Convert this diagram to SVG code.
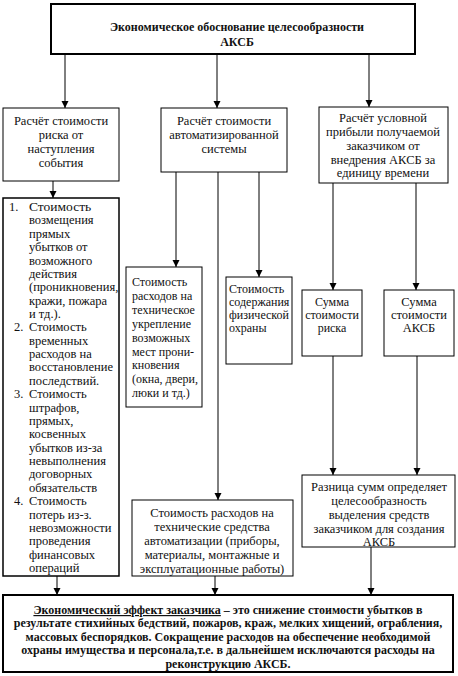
<svg xmlns="http://www.w3.org/2000/svg" width="458" height="676" viewBox="0 0 458 676">
<defs>
<marker id="arr" markerWidth="8" markerHeight="8" refX="7" refY="3.5" orient="auto" markerUnits="userSpaceOnUse">
<path d="M0,0 L7,3.5 L0,7 Z" fill="#000"/>
</marker>
<style>
.box{fill:#fff;stroke:#000;stroke-width:1}
.thick{fill:#fff;stroke:#000;stroke-width:2}
.t{font-family:"Liberation Serif","Times New Roman",serif;font-size:12.5px;fill:#111}
.s{font-size:12px}
.c{text-anchor:middle}
.b{font-weight:bold;font-size:12px}
.big{font-size:13.5px}
.ln{stroke:#000;stroke-width:1;fill:none}
.la{stroke:#000;stroke-width:1;fill:none;marker-end:url(#arr)}
</style>
</defs>
<rect width="458" height="676" fill="#fff"/>

<g id="connectors">
<line class="la" x1="65" y1="55" x2="65" y2="108"/>
<line class="la" x1="217" y1="55" x2="217" y2="108"/>
<line class="la" x1="369" y1="55" x2="369" y2="107"/>
<line class="la" x1="53" y1="181" x2="53" y2="198"/>
<line class="la" x1="176" y1="172" x2="176" y2="267"/>
<line class="la" x1="218" y1="172" x2="218" y2="500"/>
<line class="la" x1="259" y1="172" x2="259" y2="277"/>
<line class="la" x1="333" y1="183" x2="333" y2="290"/>
<line class="la" x1="416" y1="183" x2="416" y2="290"/>
<line class="la" x1="333" y1="356" x2="333" y2="475"/>
<line class="la" x1="417" y1="356" x2="417" y2="475"/>
<line class="la" x1="57" y1="576" x2="57" y2="595"/>
<line class="la" x1="215" y1="576" x2="215" y2="595"/>
<line class="la" x1="371" y1="547" x2="371" y2="595"/>
</g>

<g id="top">
<rect class="thick" x="51" y="4" width="364" height="50"/>
<text class="t c b" x="237" y="31">Экономическое обоснование целесообразности</text>
<text class="t c b" x="237" y="46">АКСБ</text>
</g>

<g id="risk">
<rect class="box" x="3" y="108" width="116" height="73"/>
<text class="t c" x="61" y="125">Расчёт стоимости</text>
<text class="t c" x="61" y="139">риска от</text>
<text class="t c" x="61" y="153">наступления</text>
<text class="t c" x="61" y="167">события</text>
</g>

<g id="auto">
<rect class="box" x="161" y="108" width="126" height="64"/>
<text class="t c" x="224" y="125">Расчёт стоимости</text>
<text class="t c" x="224" y="139">автоматизированной</text>
<text class="t c" x="224" y="153">системы</text>
</g>

<g id="profit">
<rect class="box" x="319" y="107" width="129" height="76"/>
<text class="t c" x="383" y="122">Расчёт условной</text>
<text class="t c" x="383" y="136">прибыли получаемой</text>
<text class="t c" x="383" y="150">заказчиком от</text>
<text class="t c" x="383" y="164">внедрения АКСБ за</text>
<text class="t c" x="383" y="177">единицу времени</text>
</g>

<g id="list">
<rect class="box" x="3" y="198" width="116" height="378" style="stroke-width:1.5"/>
<text class="t" x="9" y="211">1.</text>
<text class="t big" x="29" y="211">Стоимость</text>
<text class="t" x="29" y="224.4">возмещения</text>
<text class="t" x="29" y="237.7">прямых</text>
<text class="t" x="29" y="251.1">убытков от</text>
<text class="t" x="29" y="264.5">возможного</text>
<text class="t" x="29" y="277.9">действия</text>
<text class="t" x="29" y="291.2">(проникновения,</text>
<text class="t" x="29" y="304.6">кражи, пожара</text>
<text class="t" x="29" y="318">и тд.).</text>
<text class="t" x="14" y="331.3">2.</text>
<text class="t" x="29" y="331.3">Стоимость</text>
<text class="t" x="29" y="344.7">временных</text>
<text class="t" x="29" y="358.1">расходов на</text>
<text class="t" x="29" y="371.4">восстановление</text>
<text class="t" x="29" y="384.8">последствий.</text>
<text class="t" x="14" y="398.2">3.</text>
<text class="t" x="29" y="398.2">Стоимость</text>
<text class="t" x="29" y="411.6">штрафов,</text>
<text class="t" x="29" y="424.9">прямых,</text>
<text class="t" x="29" y="438.3">косвенных</text>
<text class="t" x="29" y="451.7">убытков из-за</text>
<text class="t" x="29" y="465">невыполнения</text>
<text class="t" x="29" y="478.4">договорных</text>
<text class="t" x="29" y="491.8">обязательств</text>
<text class="t" x="14" y="505.1">4.</text>
<text class="t" x="29" y="505.1">Стоимость</text>
<text class="t" x="29" y="518.5">потерь из-з.</text>
<text class="t" x="29" y="531.9">невозможности</text>
<text class="t" x="29" y="545.3">проведения</text>
<text class="t" x="29" y="558.6">финансовых</text>
<text class="t" x="29" y="572">операций</text>
</g>

<g id="strength">
<rect class="box" x="126" y="267" width="76" height="140"/>
<text class="t s" x="132" y="286">Стоимость</text>
<text class="t s" x="132" y="299.9">расходов на</text>
<text class="t s" x="132" y="313.8">техническое</text>
<text class="t s" x="132" y="327.7">укрепление</text>
<text class="t s" x="132" y="341.6">возможных</text>
<text class="t s" x="132" y="355.5">мест прони-</text>
<text class="t s" x="132" y="369.4">кновения</text>
<text class="t s" x="132" y="383.3">(окна, двери,</text>
<text class="t s" x="132" y="397.2">люки и тд.)</text>
</g>

<g id="guard">
<rect class="box" x="226" y="277" width="66" height="87"/>
<text class="t s" x="229" y="293">Стоимость</text>
<text class="t s" x="229" y="306">содержания</text>
<text class="t s" x="229" y="319">физической</text>
<text class="t s" x="229" y="332">охраны</text>
</g>

<g id="sumrisk">
<rect class="box" x="302" y="290" width="60" height="66"/>
<text class="t c s" x="332" y="306">Сумма</text>
<text class="t c s" x="332" y="319">стоимости</text>
<text class="t c s" x="332" y="332">риска</text>
</g>

<g id="sumaksb">
<rect class="box" x="384" y="290" width="70" height="66"/>
<text class="t c" x="419" y="306">Сумма</text>
<text class="t c" x="419" y="319">стоимости</text>
<text class="t c" x="419" y="332">АКСБ</text>
</g>

<g id="diff">
<rect class="box" x="302" y="475" width="153" height="72"/>
<text class="t c" x="379" y="491">Разница сумм определяет</text>
<text class="t c" x="379" y="505">целесообразность</text>
<text class="t c" x="379" y="519">выделения средств</text>
<text class="t c" x="379" y="533">заказчиком для создания</text>
<text class="t c" x="379" y="546">АКСБ</text>
</g>

<g id="means">
<rect class="box" x="132" y="500" width="161" height="76"/>
<text class="t c" x="212" y="517">Стоимость расходов на</text>
<text class="t c" x="212" y="531">технические средства</text>
<text class="t c" x="212" y="545">автоматизации (приборы,</text>
<text class="t c" x="212" y="559">материалы, монтажные и</text>
<text class="t c" x="212" y="573">эксплуатационные работы)</text>
</g>

<g id="effect">
<rect class="thick" x="3" y="595" width="450" height="77"/>
<text class="t c b" x="228" y="614"><tspan text-decoration="underline">Экономический эффект заказчика</tspan> –  это снижение стоимости убытков в</text>
<text class="t c b" x="228" y="627">результате стихийных бедствий, пожаров, краж, мелких хищений, ограбления,</text>
<text class="t c b" x="228" y="641">массовых беспорядков. Сокращение расходов на обеспечение необходимой</text>
<text class="t c b" x="228" y="654">охраны имущества и персонала,т.е. в дальнейшем исключаются расходы на</text>
<text class="t c b" x="228" y="668">реконструкцию АКСБ.</text>
</g>
</svg>
